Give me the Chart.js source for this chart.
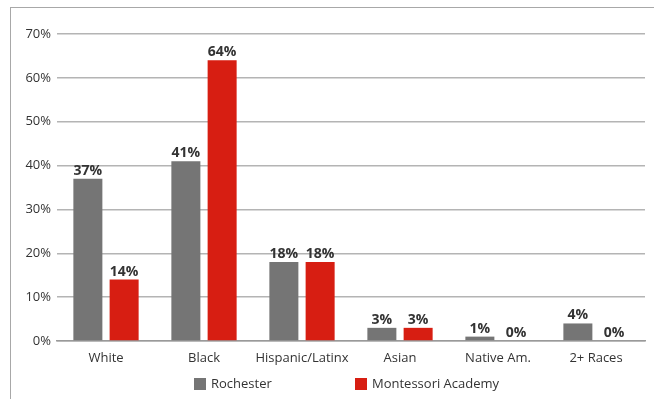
<!DOCTYPE html>
<html>
<head>
<meta charset="utf-8">
<script src="https://cdn.jsdelivr.net/npm/chart.js@4.4.0/dist/chart.umd.min.js"></script>
<style>
    html, body { margin: 0; padding: 0; background: #fff; }
    #frame {
        position: absolute; left: 10px; top: 7px; width: 644px; height: 392px;
        border-left: 1px solid #a8a8a8; border-top: 1px solid #a8a8a8;
    }
    #wrap { position: absolute; left: 0; top: 0; width: 654px; height: 399px; }
</style>
</head>
<body>
<div id="frame"></div>
<div id="wrap"><canvas id="chart" width="654" height="399"></canvas></div>
<script>
// Chart data
const categories = ['White', 'Black', 'Hispanic/Latinx', 'Asian', 'Native Am.', '2+ Races'];
const rochester = [37, 41, 18, 3, 1, 4];
const montessori = [14, 64, 18, 3, 0, 0];
const yTicks = [0, 10, 20, 30, 40, 50, 60, 70];

const FONT = '"Open Sans", sans-serif';
const TEXT = '#333';

// Percent labels above each bar
const valueLabels = {
    id: 'valueLabels',
    afterDatasetsDraw(chart) {
        const ctx = chart.ctx;
        ctx.save();
        ctx.font = 'bold 14px ' + FONT;
        ctx.fillStyle = '#333';
        ctx.textAlign = 'center';
        ctx.textBaseline = 'bottom';
        chart.data.datasets.forEach((ds, di) => {
            chart.getDatasetMeta(di).data.forEach((bar, i) => {
                ctx.fillText(ds.data[i] + '%', bar.x, bar.y - 1);
            });
        });
        ctx.restore();
    }
};

// Legend row under the axis
const bottomLegend = {
    id: 'bottomLegend',
    afterDraw(chart) {
        const ctx = chart.ctx;
        const starts = [194, 355];
        const y = 384;
        ctx.save();
        ctx.font = '13px ' + FONT;
        ctx.textBaseline = 'middle';
        ctx.textAlign = 'left';
        chart.data.datasets.forEach((ds, di) => {
            ctx.fillStyle = ds.backgroundColor;
            ctx.fillRect(starts[di], y - 6, 12, 12);
            ctx.fillStyle = TEXT;
            ctx.fillText(ds.label, starts[di] + 17, y);
        });
        ctx.restore();
    }
};

new Chart(document.getElementById('chart'), {
    type: 'bar',
    data: {
        labels: categories,
        datasets: [
            { label: 'Rochester', data: rochester, backgroundColor: '#757575' },
            { label: 'Montessori Academy', data: montessori, backgroundColor: '#d71e12' }
        ]
    },
    options: {
        responsive: false,
        animation: false,
        layout: { padding: { top: 34, right: 9, left: 0, bottom: 0 } },
        categoryPercentage: 0.74,
        barPercentage: 0.8,
        plugins: {
            legend: { display: false },
            tooltip: { enabled: false }
        },
        scales: {
            x: {
                grid: { display: false, drawTicks: false },
                border: { color: '#9a9a9a', width: 1.5 },
                ticks: {
                    color: TEXT,
                    font: { family: FONT, size: 13 },
                    padding: 9,
                    maxRotation: 0,
                    minRotation: 0,
                    autoSkip: false
                },
                afterFit(scale) { scale.height = 58; }
            },
            y: {
                min: 0,
                max: 70,
                afterBuildTicks(scale) { scale.ticks = yTicks.map(v => ({ value: v })); },
                grid: { color: '#b4b4b4', lineWidth: 1.5, drawTicks: false },
                border: { display: false },
                ticks: {
                    color: TEXT,
                    font: { family: FONT, size: 13 },
                    padding: 6,
                    callback: v => v + '%'
                },
                afterFit(scale) { scale.width = 57; }
            }
        }
    },
    plugins: [valueLabels, bottomLegend]
});
</script>
</body>
</html>
